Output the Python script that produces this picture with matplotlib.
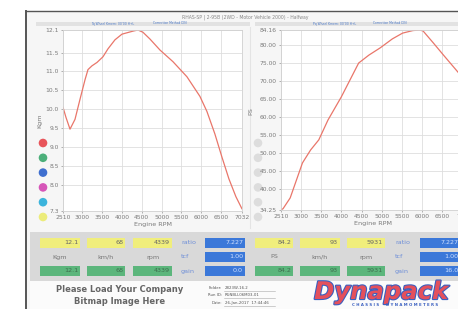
import matplotlib
matplotlib.use("Agg")
import matplotlib.pyplot as plt
from matplotlib.patches import Rectangle, Circle
import matplotlib.patheffects as pe

W, H = 458, 309

# torque curve (Kgm) vs engine rpm
tq_rpm = [2510, 2586, 2687, 2813, 2939, 3066, 3141, 3242, 3369, 3520, 3646, 3823,
          4000, 4278, 4404, 4530, 4707, 4959, 5288, 5641, 5969, 6146, 6348, 6525,
          6702, 6878, 7030]
tq_kgm = [10.05, 9.78, 9.47, 9.73, 10.26, 10.78, 11.05, 11.15, 11.24, 11.39, 11.60, 11.84,
          11.99, 12.07, 12.10, 12.04, 11.86, 11.57, 11.26, 10.86, 10.34, 9.94, 9.34, 8.73,
          8.15, 7.68, 7.36]

# power curve (PS) vs engine rpm
pw_rpm = [2510, 2560, 2737, 3040, 3242, 3444, 3671, 4000, 4429, 4682, 4960, 5262,
          5515, 5767, 5931, 6020, 6272, 6525, 6904, 7032]
pw_ps = [34.3, 34.6, 37.6, 47.3, 50.9, 53.7, 59.2, 65.6, 75.0, 77.2, 79.2, 81.7,
         83.3, 84.0, 84.16, 83.9, 80.6, 77.2, 72.2, 70.4]

x_ticks = [2510, 3000, 3500, 4000, 4500, 5000, 5500, 6000, 6500, 7032]
tq_ticks = [7.3, 8.0, 8.5, 9.0, 9.5, 10.0, 10.5, 11.0, 11.5, 12.1]
pw_ticks = [34.25, 40, 45, 50, 55, 60, 65, 70, 75, 80, 84.16]

# readouts
tq_top = ["12.1", "68", "4339"]
tq_bot = ["12.1", "68", "4339"]
tq_units = ["Kgm", "km/h", "rpm"]
tq_side = ["7.227", "1.00", "0.0"]
pw_top = ["84.2", "93", "5931"]
pw_bot = ["84.2", "93", "5931"]
pw_units = ["PS", "km/h", "rpm"]
pw_side = ["7.227", "1.00", "16.0"]
side_names = ["ratio", "tcf", "gain"]

dot_colors = ["#e8545a", "#4caf7a", "#3f6fcf", "#d656b8", "#3cb4dc", "#ecec7a"]

CURVE = "#e9766a"
GRID = "#dedede"
TXT = "#7a7a7a"


def fig_ax(fig, x0, y0, x1, y1):
    # pixel box (top-left origin) -> axes
    return fig.add_axes([x0 / W, 1 - y1 / H, (x1 - x0) / W, (y1 - y0) / H])


fig = plt.figure(figsize=(W / 100, H / 100), dpi=100)
fig.patch.set_facecolor("white")

bg = fig.add_axes([0, 0, 1, 1])
bg.set_xlim(0, W)
bg.set_ylim(H, 0)
bg.set_axis_off()
bg.set_zorder(0)

# page
bg.add_patch(Rectangle((26, 11), W - 26, H - 11, facecolor="#f6f6f6", edgecolor="none"))
bg.plot([26, 26], [11, H], color="#555555", lw=1.4)
bg.plot([26, W], [11, 11], color="#555555", lw=1.0)
bg.text(245, 17, "RHAS-SP | 2-95B (2WD - Motor Vehicle 2000) - Halfway",
        fontsize=3.3, color="#888888", ha="center", va="center")
bg.add_patch(Rectangle((36, 21.5), 214, 4, facecolor="#e2e2e2", edgecolor="none"))
bg.add_patch(Rectangle((255, 21.5), 203, 4, facecolor="#e2e2e2", edgecolor="none"))
bg.text(113, 23.5, "Tq Wheel Kmem: 00'00 H+L", fontsize=2.2, color="#4a78c8", ha="center", va="center")
bg.text(170, 23.5, "Correction Method DIN", fontsize=2.2, color="#4a78c8", ha="center", va="center")
bg.text(335, 23.5, "Pq Wheel Kmem: 00'00 H+L", fontsize=2.2, color="#4a78c8", ha="center", va="center")
bg.text(390, 23.5, "Correction Method DIN", fontsize=2.2, color="#4a78c8", ha="center", va="center")
bg.plot([250, 250], [27, 228], color="#e4e4e4", lw=0.8)

# legend dots
for i, c in enumerate(dot_colors):
    yy = 143 + i * 14.8
    bg.add_patch(Circle((43, yy), 4.3, facecolor=c, edgecolor="none"))
    bg.add_patch(Circle((258, yy), 4.3, facecolor="#dddddd", edgecolor="none"))


def style(ax):
    ax.set_facecolor("white")
    ax.grid(True, color=GRID, lw=0.6)
    for s in ax.spines.values():
        s.set_color("#d0d0d0")
        s.set_linewidth(0.6)
    ax.tick_params(labelsize=4.3, colors=TXT, length=1.5, width=0.4, pad=1.5)
    ax.set_xlabel("Engine RPM", fontsize=4.6, color=TXT, labelpad=1.5)


ax1 = fig_ax(fig, 63, 30, 242, 211)
ax1.plot(tq_rpm, tq_kgm, color=CURVE, lw=0.9)
ax1.set_xlim(2510, 7032)
ax1.set_ylim(7.3, 12.1)
ax1.set_xticks(x_ticks)
ax1.set_yticks(tq_ticks)
ax1.set_yticklabels([f"{v:.1f}" for v in tq_ticks])
style(ax1)
ax1.set_ylabel("Kgm", fontsize=4.6, color=TXT)
ax1.yaxis.set_label_coords(-0.115, 0.5)

ax2 = fig_ax(fig, 281, 30, 464, 210)
ax2.plot(pw_rpm, pw_ps, color=CURVE, lw=0.9)
ax2.set_xlim(2510, 7032)
ax2.set_ylim(34.25, 84.16)
ax2.set_xticks(x_ticks)
ax2.set_yticks(pw_ticks)
ax2.set_yticklabels([f"{v:.2f}" for v in pw_ticks])
style(ax2)
ax2.set_ylabel("PS", fontsize=4.6, color=TXT)
ax2.yaxis.set_label_coords(-0.15, 0.55)

# readout panel
bg.add_patch(Rectangle((30, 232), W - 30, 49, facecolor="#d9d9d9", edgecolor="none"))
bg.add_patch(Rectangle((30, 281), W - 30, 28, facecolor="#fbfbfb", edgecolor="none"))


def readouts(x_boxes, top, bot, units, names_x, side_x, side):
    for (xa, xb), t, b, u in zip(x_boxes, top, bot, units):
        bg.add_patch(Rectangle((xa, 238), xb - xa, 10, facecolor="#f0ee7c", edgecolor="none"))
        bg.add_patch(Rectangle((xa, 266), xb - xa, 10, facecolor="#5cb67c", edgecolor="none"))
        bg.text(xb - 2, 243, t, fontsize=4.6, color="#666666", ha="right", va="center")
        bg.text(xb - 2, 271, b, fontsize=4.6, color="#3e6e4e", ha="right", va="center")
        bg.text((xa + xb) / 2, 257, u, fontsize=4.6, color="#777777", ha="center", va="center")
    for k, (n, s) in enumerate(zip(side_names, side)):
        yy = 238 + k * 14
        bg.text(names_x, yy + 5, n, fontsize=4.6, color="#6f8fd8", ha="left", va="center")
        bg.add_patch(Rectangle((side_x, yy), 40, 10, facecolor="#3b78d9", edgecolor="none"))
        bg.text(side_x + 38, yy + 5, s, fontsize=4.6, color="#cfe0ff", ha="right", va="center")


readouts([(40, 80), (87, 125), (133, 172)], tq_top, tq_bot, tq_units, 181, 205, tq_side)
readouts([(255, 293), (300, 340), (347, 385)], pw_top, pw_bot, pw_units, 395, 420, pw_side)

# footer
bg.text(120, 290, "Please Load Your Company", fontsize=6, fontweight="bold", color="#666666",
        ha="center", va="center")
bg.text(120, 301, "Bitmap Image Here", fontsize=6, fontweight="bold", color="#666666",
        ha="center", va="center")
info = [("Folder:", "2823W-16.2"), ("Run ID:", "RUNBLL06M03-01"), ("Date:", "26-Jan-2017  17:44:46")]
for k, (lab, val) in enumerate(info):
    yy = 288 + k * 7.5
    bg.text(222, yy, lab, fontsize=2.8, color="#555555", ha="right", va="center")
    bg.text(225, yy, val, fontsize=2.8, color="#555555", ha="left", va="center")
    bg.plot([224, 275], [yy + 2.5, yy + 2.5], color="#aaaaaa", lw=0.4)

logo = bg.text(381, 292, "Dynapack", fontsize=17.5, fontweight="bold", style="italic",
               color="#e4505c", ha="center", va="center", family="DejaVu Sans")
logo.set_path_effects([pe.withStroke(linewidth=1.6, foreground="#3a5fc0")])
bg.text(395, 305.5, "C H A S S I S     D Y N A M O M E T E R S", fontsize=2.8,
        color="#3a5fc0", ha="center", va="center", fontweight="bold")

ax1.set_zorder(2)
ax2.set_zorder(2)

fig.savefig("out.png", dpi=100)
